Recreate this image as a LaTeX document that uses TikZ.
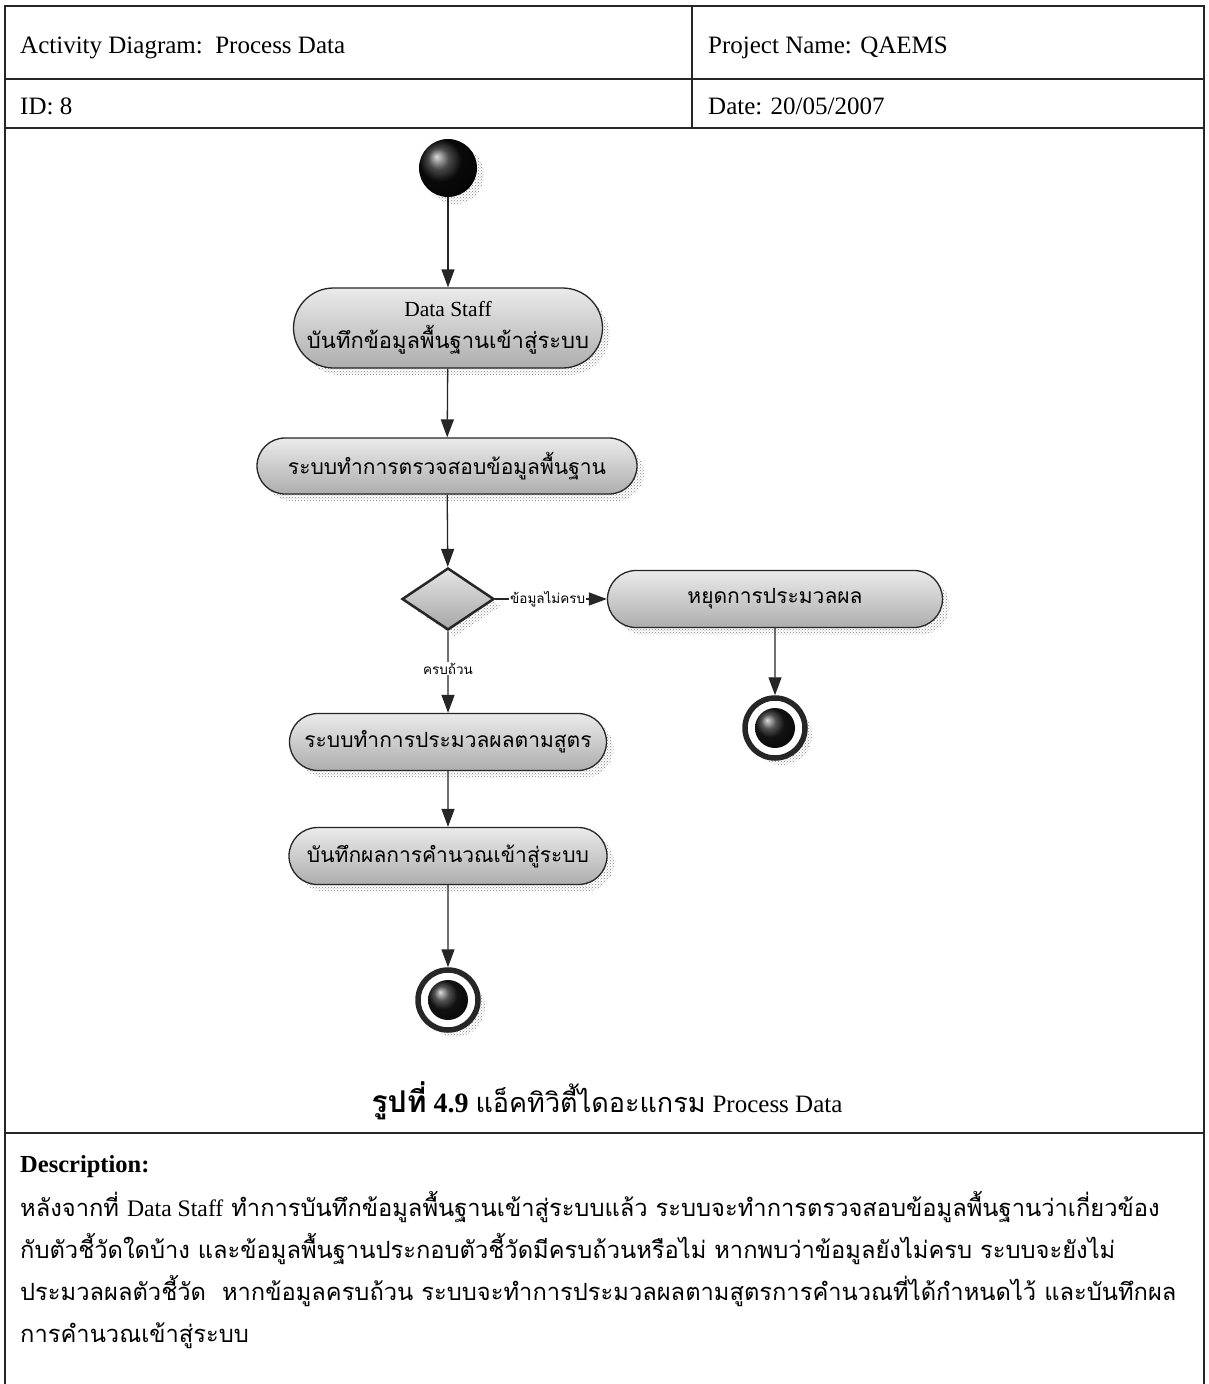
\documentclass[tikz,border=0pt]{standalone}
\usepackage{fontspec}
\setmainfont{Liberation Serif}
\newfontfamily\thai[Script=Thai]{Loma}
\usetikzlibrary{arrows.meta,shapes.misc,shapes.geometric,shadows,patterns}
\begin{document}
\begin{tikzpicture}[x=1pt,y=-1pt,
  frame/.style={draw=black!85, line width=1.6pt},
  hdr/.style={anchor=base west, inner sep=0pt, font=\fontsize{25}{29}\selectfont},
  sh/.style={general shadow={shadow xshift=7pt, shadow yshift=-7pt, pattern=crosshatch dots, pattern color=black!50}},
  action/.style={rounded rectangle, draw=black!85, line width=1.3pt, top color=black!8, bottom color=black!32, inner sep=0pt, sh, align=center},
  thaiact/.style={font=\thai\fontsize{21}{25}\selectfont},
  flow/.style={draw=black!85, line width=1.3pt, -{Triangle[length=18pt,width=13pt]}},
  glabel/.style={fill=white, inner sep=1pt, font=\thai\fontsize{13.5}{15}\selectfont},
  startnode/.style={circle, minimum size=58pt, inner sep=0pt, shading=ball, ball color=black!95, sh},
  endouter/.style={circle, minimum size=60pt, inner sep=0pt, draw=black!85, line width=5.5pt, fill=white, sh},
  endinner/.style={circle, minimum size=40pt, inner sep=0pt, shading=ball, ball color=black!90},
  decision/.style={diamond, minimum width=92pt, minimum height=62pt, inner sep=0pt, draw=black!85, line width=2.5pt, top color=black!10, bottom color=black!35, sh},
  desc/.style={anchor=base west, inner sep=0pt, font=\thai\fontsize{23.7}{28}\selectfont}
]
\useasboundingbox (0,0) rectangle (1209,1384);
\fill[white] (0,0) rectangle (1209,1384);
% table frame
\draw[frame] (5,1384) -- (5,6) -- (1204,6) -- (1204,1384);
\draw[frame] (5,79) -- (1204,79);
\draw[frame] (5,128) -- (1204,128);
\draw[frame] (5,1133) -- (1204,1133);
\draw[frame] (692,6) -- (692,128);
% header texts
\node[hdr] (h1) at (20,53) {Activity Diagram:\ \ Process Data};
\node[hdr] (h2) at (708,53) {Project Name: QAEMS};
\node[hdr] (h3) at (20,114) {ID: 8};
\node[hdr] (h4) at (708,114) {Date: 20/05/2007};
% diagram
\node[startnode] (start) at (448,168) {};
\node[action, minimum width=309pt, minimum height=80pt] (a1) at (448,328)
  {{\fontsize{21.5}{26}\selectfont Data Staff}\\[8pt]{\thai\fontsize{22}{26}\selectfont บันทึกข้อมูลพื้นฐานเข้าสู่ระบบ}};
\node[action, thaiact, minimum width=380pt, minimum height=56pt] (a2) at (447,466) {ระบบทำการตรวจสอบข้อมูลพื้นฐาน};
\node[decision] (d) at (448,599) {};
\node[action, thaiact, minimum width=335pt, minimum height=57pt] (a3) at (775,599) {หยุดการประมวลผล};
\node[endouter] (e1) at (775,728) {};
\node[endinner] (e1in) at (775,728) {};
\node[action, thaiact, minimum width=317pt, minimum height=57pt] (a4) at (448,742) {ระบบทำการประมวลผลตามสูตร};
\node[action, thaiact, minimum width=318pt, minimum height=57pt] (a5) at (448,856) {บันทึกผลการคำนวณเข้าสู่ระบบ};
\node[endouter] (e2) at (448,1000) {};
\node[endinner] (e2in) at (448,1000) {};
% connectors
\draw[flow] (start) -- (a1);
\draw[flow] (a1) -- (a2);
\draw[flow] (a2) -- (d);
\draw[flow] (d.east) -- node[glabel, pos=0.47] (l1) {ข้อมูลไม่ครบ} (a3.west);
\draw[flow] (a3) -- (e1);
\draw[flow] (d.south) -- node[glabel, pos=0.46] (l2) {ครบถ้วน} (a4);
\draw[flow] (a4) -- (a5);
\draw[flow] (a5) -- (e2);
% caption
\node[inner sep=0pt, anchor=base, font=\fontsize{28}{32}\selectfont] (cap) at (607,1112)
  {{\thai\bfseries\fontsize{30}{34}\selectfont รูปที่} {\bfseries 4.9} {\thai\fontsize{27}{32}\selectfont แอ็คทิวิตี้ไดอะแกรม} {\fontsize{25}{30}\selectfont Process Data}};
% description
\node[anchor=base west, inner sep=0pt, font=\bfseries\fontsize{24.5}{28}\selectfont] (dh) at (20,1172) {Description:};
\node[desc] (d1) at (20,1216) {หลังจากที่ {\rmfamily Data Staff} ทำการบันทึกข้อมูลพื้นฐานเข้าสู่ระบบแล้ว ระบบจะทำการตรวจสอบข้อมูลพื้นฐานว่าเกี่ยวข้อง};
\node[desc] (d2) at (20,1258) {กับตัวชี้วัดใดบ้าง และข้อมูลพื้นฐานประกอบตัวชี้วัดมีครบถ้วนหรือไม่ หากพบว่าข้อมูลยังไม่ครบ ระบบจะยังไม่};
\node[desc] (d3) at (20,1300) {ประมวลผลตัวชี้วัด\ \ หากข้อมูลครบถ้วน ระบบจะทำการประมวลผลตามสูตรการคำนวณที่ได้กำหนดไว้ และบันทึกผล};
\node[desc] (d4) at (20,1342) {การคำนวณเข้าสู่ระบบ};
\end{tikzpicture}
\end{document}
